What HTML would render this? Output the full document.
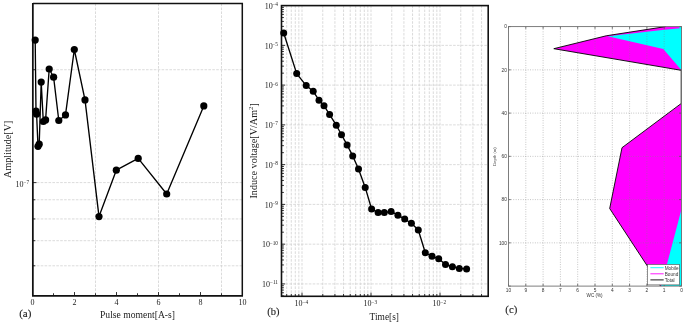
<!DOCTYPE html>
<html><head><meta charset="utf-8"><style>
html,body{margin:0;padding:0;background:#fff;width:685px;height:324px;overflow:hidden}
svg{display:block;will-change:transform}
.s{font-family:"Liberation Serif",serif;fill:#222}
.lb{font-weight:bold}
.a{font-family:"Liberation Sans",sans-serif}
</style></head><body>
<svg width="685" height="324" viewBox="0 0 685 324">
<rect width="685" height="324" fill="#fff"/>
<path d="M95.50 3.6V295.85 M158.50 3.6V295.85 M221.50 3.6V295.85 M32.9 69.71H242.3 M32.9 182.60H242.3 M32.9 199.76H242.3 M32.9 218.94H242.3 M32.9 240.69H242.3 M32.9 265.79H242.3" stroke="#d2d2d2" stroke-width="0.8" stroke-dasharray="2.6 1.3" fill="none"/>
<path d="M32.50 295.85v-3.8 M74.50 295.85v-3.8 M116.50 295.85v-3.8 M158.50 295.85v-3.8 M200.50 295.85v-3.8 M242.50 295.85v-3.8 M53.50 295.85v-2.6 M95.50 295.85v-2.6 M137.50 295.85v-2.6 M179.50 295.85v-2.6 M221.50 295.85v-2.6 M32.9 182.60h3.6 M32.9 69.71h2.4 M32.9 199.76h2.4 M32.9 218.94h2.4 M32.9 240.69h2.4 M32.9 265.79h2.4" stroke="#333" stroke-width="1" fill="none"/>
<path d="M32.9 3.6H242.3V295.85" fill="none" stroke="#111" stroke-width="1.5"/>
<path d="M32.85 2.9000000000000004V295.85H243.0" fill="none" stroke="#111" stroke-width="1.75"/>
<polyline points="35.2,40.1 36.0,111.2 36.6,114.2 38.0,146.3 39.2,144.2 41.2,82.1 43.3,121.5 45.6,119.9 49.2,69.0 53.6,77.2 58.8,120.5 65.5,114.9 74.3,49.5 85.0,99.9 99.0,216.6 116.3,170.2 138.2,158.4 166.7,194.0 203.8,105.9" fill="none" stroke="#000" stroke-width="1.35" stroke-linejoin="round"/>
<circle cx="35.2" cy="40.1" r="3.6"/>
<circle cx="36.0" cy="111.2" r="3.6"/>
<circle cx="36.6" cy="114.2" r="3.6"/>
<circle cx="38.0" cy="146.3" r="3.6"/>
<circle cx="39.2" cy="144.2" r="3.6"/>
<circle cx="41.2" cy="82.1" r="3.6"/>
<circle cx="43.3" cy="121.5" r="3.6"/>
<circle cx="45.6" cy="119.9" r="3.6"/>
<circle cx="49.2" cy="69.0" r="3.6"/>
<circle cx="53.6" cy="77.2" r="3.6"/>
<circle cx="58.8" cy="120.5" r="3.6"/>
<circle cx="65.5" cy="114.9" r="3.6"/>
<circle cx="74.3" cy="49.5" r="3.6"/>
<circle cx="85.0" cy="99.9" r="3.6"/>
<circle cx="99.0" cy="216.6" r="3.6"/>
<circle cx="116.3" cy="170.2" r="3.6"/>
<circle cx="138.2" cy="158.4" r="3.6"/>
<circle cx="166.7" cy="194.0" r="3.6"/>
<circle cx="203.8" cy="105.9" r="3.6"/>
<text x="32.50" y="304.6" font-size="8" text-anchor="middle" class="s">0</text>
<text x="74.50" y="304.6" font-size="8" text-anchor="middle" class="s">2</text>
<text x="116.50" y="304.6" font-size="8" text-anchor="middle" class="s">4</text>
<text x="158.50" y="304.6" font-size="8" text-anchor="middle" class="s">6</text>
<text x="200.50" y="304.6" font-size="8" text-anchor="middle" class="s">8</text>
<text x="242.50" y="304.6" font-size="8" text-anchor="middle" class="s">10</text>
<text x="23.6" y="186.8" font-size="8" text-anchor="end" class="s">10</text>
<text x="23.5" y="183.8" font-size="5.3" class="s">&#8722;7</text>
<text x="100" y="318.2" font-size="11" class="s" textLength="75" lengthAdjust="spacingAndGlyphs">Pulse moment[A-s]</text>
<text transform="translate(10.5 177.9) rotate(-90)" font-size="11" class="s" textLength="57.3" lengthAdjust="spacingAndGlyphs">Amplitude[V]</text>
<text x="19.2" y="317" font-size="10.5" class="s" textLength="12.2" lengthAdjust="spacingAndGlyphs" stroke="#222" stroke-width="0.12">(a)</text>
<path d="M286.69 5.6V296.3 M291.31 5.6V296.3 M295.31 5.6V296.3 M298.84 5.6V296.3 M302.00 5.6V296.3 M322.77 5.6V296.3 M334.92 5.6V296.3 M343.54 5.6V296.3 M350.23 5.6V296.3 M355.69 5.6V296.3 M360.31 5.6V296.3 M364.31 5.6V296.3 M367.84 5.6V296.3 M371.00 5.6V296.3 M391.77 5.6V296.3 M403.92 5.6V296.3 M412.54 5.6V296.3 M419.23 5.6V296.3 M424.69 5.6V296.3 M429.31 5.6V296.3 M433.31 5.6V296.3 M436.84 5.6V296.3 M440.00 5.6V296.3 M460.77 5.6V296.3 M472.92 5.6V296.3 M481.54 5.6V296.3 M281.5 45.36H488.2 M281.5 85.12H488.2 M281.5 124.88H488.2 M281.5 164.64H488.2 M281.5 204.40H488.2 M281.5 244.16H488.2 M281.5 283.92H488.2" stroke="#d2d2d2" stroke-width="0.8" stroke-dasharray="2.6 1.3" fill="none"/>
<path d="M286.69 296.3v-2.4 M291.31 296.3v-2.4 M295.31 296.3v-2.4 M298.84 296.3v-2.4 M302.00 296.3v-3.6 M322.77 296.3v-2.4 M334.92 296.3v-2.4 M343.54 296.3v-2.4 M350.23 296.3v-2.4 M355.69 296.3v-2.4 M360.31 296.3v-2.4 M364.31 296.3v-2.4 M367.84 296.3v-2.4 M371.00 296.3v-3.6 M391.77 296.3v-2.4 M403.92 296.3v-2.4 M412.54 296.3v-2.4 M419.23 296.3v-2.4 M424.69 296.3v-2.4 M429.31 296.3v-2.4 M433.31 296.3v-2.4 M436.84 296.3v-2.4 M440.00 296.3v-3.6 M460.77 296.3v-2.4 M472.92 296.3v-2.4 M481.54 296.3v-2.4 M281.5 5.60h3.6 M281.5 45.36h3.6 M281.5 33.39h2.4 M281.5 26.39h2.4 M281.5 21.42h2.4 M281.5 17.57h2.4 M281.5 14.42h2.4 M281.5 11.76h2.4 M281.5 9.45h2.4 M281.5 7.42h2.4 M281.5 85.12h3.6 M281.5 73.15h2.4 M281.5 66.15h2.4 M281.5 61.18h2.4 M281.5 57.33h2.4 M281.5 54.18h2.4 M281.5 51.52h2.4 M281.5 49.21h2.4 M281.5 47.18h2.4 M281.5 124.88h3.6 M281.5 112.91h2.4 M281.5 105.91h2.4 M281.5 100.94h2.4 M281.5 97.09h2.4 M281.5 93.94h2.4 M281.5 91.28h2.4 M281.5 88.97h2.4 M281.5 86.94h2.4 M281.5 164.64h3.6 M281.5 152.67h2.4 M281.5 145.67h2.4 M281.5 140.70h2.4 M281.5 136.85h2.4 M281.5 133.70h2.4 M281.5 131.04h2.4 M281.5 128.73h2.4 M281.5 126.70h2.4 M281.5 204.40h3.6 M281.5 192.43h2.4 M281.5 185.43h2.4 M281.5 180.46h2.4 M281.5 176.61h2.4 M281.5 173.46h2.4 M281.5 170.80h2.4 M281.5 168.49h2.4 M281.5 166.46h2.4 M281.5 244.16h3.6 M281.5 232.19h2.4 M281.5 225.19h2.4 M281.5 220.22h2.4 M281.5 216.37h2.4 M281.5 213.22h2.4 M281.5 210.56h2.4 M281.5 208.25h2.4 M281.5 206.22h2.4 M281.5 283.92h3.6 M281.5 271.95h2.4 M281.5 264.95h2.4 M281.5 259.98h2.4 M281.5 256.13h2.4 M281.5 252.98h2.4 M281.5 250.32h2.4 M281.5 248.01h2.4 M281.5 245.98h2.4 M281.5 295.89h2.4 M281.5 292.74h2.4 M281.5 290.08h2.4 M281.5 287.77h2.4 M281.5 285.74h2.4" stroke="#333" stroke-width="1" fill="none"/>
<rect x="281.5" y="5.6" width="206.70" height="290.70" fill="none" stroke="#111" stroke-width="1.6"/>
<polyline points="283.7,33.0 296.7,73.6 306.2,85.6 313.2,91.3 319,100.2 324,105.7 329.6,114.6 336.3,125.2 341.5,134.8 347.1,144.9 352.7,155.9 358.5,169.1 365.2,187.4 371.6,209 378.1,212.6 384.3,212.6 391.1,211.4 397.9,215.2 404.7,219.1 411.4,223.3 418.3,230 425.3,252.8 432,256.2 438.7,258.8 445.5,264.6 452.4,266.7 459.3,268.4 466.6,269.0" fill="none" stroke="#000" stroke-width="1.35" stroke-linejoin="round"/>
<circle cx="283.7" cy="33.0" r="3.5"/>
<circle cx="296.7" cy="73.6" r="3.5"/>
<circle cx="306.2" cy="85.6" r="3.5"/>
<circle cx="313.2" cy="91.3" r="3.5"/>
<circle cx="319" cy="100.2" r="3.5"/>
<circle cx="324" cy="105.7" r="3.5"/>
<circle cx="329.6" cy="114.6" r="3.5"/>
<circle cx="336.3" cy="125.2" r="3.5"/>
<circle cx="341.5" cy="134.8" r="3.5"/>
<circle cx="347.1" cy="144.9" r="3.5"/>
<circle cx="352.7" cy="155.9" r="3.5"/>
<circle cx="358.5" cy="169.1" r="3.5"/>
<circle cx="365.2" cy="187.4" r="3.5"/>
<circle cx="371.6" cy="209" r="3.5"/>
<circle cx="378.1" cy="212.6" r="3.5"/>
<circle cx="384.3" cy="212.6" r="3.5"/>
<circle cx="391.1" cy="211.4" r="3.5"/>
<circle cx="397.9" cy="215.2" r="3.5"/>
<circle cx="404.7" cy="219.1" r="3.5"/>
<circle cx="411.4" cy="223.3" r="3.5"/>
<circle cx="418.3" cy="230" r="3.5"/>
<circle cx="425.3" cy="252.8" r="3.5"/>
<circle cx="432" cy="256.2" r="3.5"/>
<circle cx="438.7" cy="258.8" r="3.5"/>
<circle cx="445.5" cy="264.6" r="3.5"/>
<circle cx="452.4" cy="266.7" r="3.5"/>
<circle cx="459.3" cy="268.4" r="3.5"/>
<circle cx="466.6" cy="269.0" r="3.5"/>
<text x="272.71" y="8.80" font-size="8" text-anchor="end" class="s">10</text>
<text x="278.0" y="6.00" font-size="5.3" text-anchor="end" class="s">&#8722;4</text>
<text x="272.71" y="48.56" font-size="8" text-anchor="end" class="s">10</text>
<text x="278.0" y="45.76" font-size="5.3" text-anchor="end" class="s">&#8722;5</text>
<text x="272.71" y="88.32" font-size="8" text-anchor="end" class="s">10</text>
<text x="278.0" y="85.52" font-size="5.3" text-anchor="end" class="s">&#8722;6</text>
<text x="272.71" y="128.08" font-size="8" text-anchor="end" class="s">10</text>
<text x="278.0" y="125.28" font-size="5.3" text-anchor="end" class="s">&#8722;7</text>
<text x="272.71" y="167.84" font-size="8" text-anchor="end" class="s">10</text>
<text x="278.0" y="165.04" font-size="5.3" text-anchor="end" class="s">&#8722;8</text>
<text x="272.71" y="207.60" font-size="8" text-anchor="end" class="s">10</text>
<text x="278.0" y="204.80" font-size="5.3" text-anchor="end" class="s">&#8722;9</text>
<text x="270.06" y="247.36" font-size="8" text-anchor="end" class="s">10</text>
<text x="278.0" y="244.56" font-size="5.3" text-anchor="end" class="s">&#8722;10</text>
<text x="270.06" y="287.12" font-size="8" text-anchor="end" class="s">10</text>
<text x="278.0" y="284.32" font-size="5.3" text-anchor="end" class="s">&#8722;11</text>
<text x="302.50" y="306.3" font-size="8" text-anchor="end" class="s">10</text>
<text x="302.40" y="303.6" font-size="5.3" class="s">&#8722;4</text>
<text x="371.50" y="306.3" font-size="8" text-anchor="end" class="s">10</text>
<text x="371.40" y="303.6" font-size="5.3" class="s">&#8722;3</text>
<text x="440.50" y="306.3" font-size="8" text-anchor="end" class="s">10</text>
<text x="440.40" y="303.6" font-size="5.3" class="s">&#8722;2</text>
<text x="369.6" y="319.7" font-size="10.5" class="s" textLength="29.4" lengthAdjust="spacingAndGlyphs">Time[s]</text>
<text transform="translate(257.1 198.5) rotate(-90)" font-size="10.5" class="s" textLength="95.3" lengthAdjust="spacingAndGlyphs">Induce voltage[V/Am<tspan font-size="7" dy="-4.3">2</tspan><tspan dy="4.3">]</tspan></text>
<text x="267.3" y="314.5" font-size="10.5" class="s" textLength="12.2" lengthAdjust="spacingAndGlyphs" stroke="#222" stroke-width="0.12">(b)</text>
<polygon points="681.5,26.6 665.6,26.6 606.2,35.8 553.8,48.7 681.5,70.3" fill="#ff00ff"/>
<polygon points="681.5,26.6 678.5,26.6 680,28.2 660,30.2 607.8,36.2 663.3,49.1 681.5,70.3" fill="#00ffff"/>
<polygon points="681.5,103.5 622,147.7 609.7,208.5 660.5,286.1 681.5,286.1" fill="#ff00ff"/>
<polygon points="681.5,209.2 661.2,286.1 681.5,286.1" fill="#00ffff"/>
<path d="M664.20 26.6V286.1 M646.90 26.6V286.1 M629.60 26.6V286.1 M612.30 26.6V286.1 M595.00 26.6V286.1 M577.70 26.6V286.1 M560.40 26.6V286.1 M543.10 26.6V286.1 M525.80 26.6V286.1 M508.5 69.85H681.5 M508.5 113.10H681.5 M508.5 156.35H681.5 M508.5 199.60H681.5 M508.5 242.85H681.5" stroke="#808080" stroke-width="0.5" stroke-dasharray="0.9 1.5" fill="none"/>
<polyline points="665.6,26.6 606.2,35.8 553.8,48.7 681.2,70.3 681.2,103.5 622,147.7 609.7,208.5 660.5,286.1" fill="none" stroke="#000" stroke-width="0.9"/>
<path d="M681.50 286.1v-2.3M681.50 26.6v2.3 M664.20 286.1v-2.3M664.20 26.6v2.3 M646.90 286.1v-2.3M646.90 26.6v2.3 M629.60 286.1v-2.3M629.60 26.6v2.3 M612.30 286.1v-2.3M612.30 26.6v2.3 M595.00 286.1v-2.3M595.00 26.6v2.3 M577.70 286.1v-2.3M577.70 26.6v2.3 M560.40 286.1v-2.3M560.40 26.6v2.3 M543.10 286.1v-2.3M543.10 26.6v2.3 M525.80 286.1v-2.3M525.80 26.6v2.3 M508.50 286.1v-2.3M508.50 26.6v2.3 M508.5 26.60h2.3M681.5 26.60h-2.3 M508.5 69.85h2.3M681.5 69.85h-2.3 M508.5 113.10h2.3M681.5 113.10h-2.3 M508.5 156.35h2.3M681.5 156.35h-2.3 M508.5 199.60h2.3M681.5 199.60h-2.3 M508.5 242.85h2.3M681.5 242.85h-2.3 M508.5 286.10h2.3M681.5 286.10h-2.3" stroke="#555" stroke-width="0.8" fill="none"/>
<rect x="508.5" y="26.6" width="173.0" height="259.5" fill="none" stroke="#707070" stroke-width="0.9"/>
<rect x="647.4" y="264.4" width="32.1" height="20.5" fill="#fff" stroke="#444" stroke-width="0.6"/>
<path d="M650.4 267.7H663.7" stroke="#00ffff" stroke-width="0.9"/>
<path d="M650.4 273.8H663.7" stroke="#ff00ff" stroke-width="0.9"/>
<path d="M650.4 279.9H663.7" stroke="#000" stroke-width="0.9"/>
<text x="664.7" y="269.6" font-size="4.7" class="a" fill="#333">Mobile</text>
<text x="664.7" y="275.7" font-size="4.7" class="a" fill="#333">Bound</text>
<text x="664.7" y="281.8" font-size="4.7" class="a" fill="#333">Total</text>
<text x="681.50" y="291.6" font-size="4.8" text-anchor="middle" class="a" fill="#333">0</text>
<text x="664.20" y="291.6" font-size="4.8" text-anchor="middle" class="a" fill="#333">1</text>
<text x="646.90" y="291.6" font-size="4.8" text-anchor="middle" class="a" fill="#333">2</text>
<text x="629.60" y="291.6" font-size="4.8" text-anchor="middle" class="a" fill="#333">3</text>
<text x="612.30" y="291.6" font-size="4.8" text-anchor="middle" class="a" fill="#333">4</text>
<text x="595.00" y="291.6" font-size="4.8" text-anchor="middle" class="a" fill="#333">5</text>
<text x="577.70" y="291.6" font-size="4.8" text-anchor="middle" class="a" fill="#333">6</text>
<text x="560.40" y="291.6" font-size="4.8" text-anchor="middle" class="a" fill="#333">7</text>
<text x="543.10" y="291.6" font-size="4.8" text-anchor="middle" class="a" fill="#333">8</text>
<text x="525.80" y="291.6" font-size="4.8" text-anchor="middle" class="a" fill="#333">9</text>
<text x="508.50" y="291.6" font-size="4.8" text-anchor="middle" class="a" fill="#333">10</text>
<text x="506.9" y="28.30" font-size="4.8" text-anchor="end" class="a" fill="#333">0</text>
<text x="506.9" y="71.55" font-size="4.8" text-anchor="end" class="a" fill="#333">20</text>
<text x="506.9" y="114.80" font-size="4.8" text-anchor="end" class="a" fill="#333">40</text>
<text x="506.9" y="158.05" font-size="4.8" text-anchor="end" class="a" fill="#333">60</text>
<text x="506.9" y="201.30" font-size="4.8" text-anchor="end" class="a" fill="#333">80</text>
<text x="506.9" y="244.55" font-size="4.8" text-anchor="end" class="a" fill="#333">100</text>
<text x="594.6" y="297.1" font-size="4.6" text-anchor="middle" class="a" fill="#333">WC (%)</text>
<text transform="translate(496.4 156.6) rotate(-90)" font-size="4.2" text-anchor="middle" class="a" fill="#555">Depth (m)</text>
<text x="505.3" y="313.3" font-size="10.5" class="s" textLength="12.0" lengthAdjust="spacingAndGlyphs" stroke="#222" stroke-width="0.12">(c)</text>
</svg>
</body></html>
